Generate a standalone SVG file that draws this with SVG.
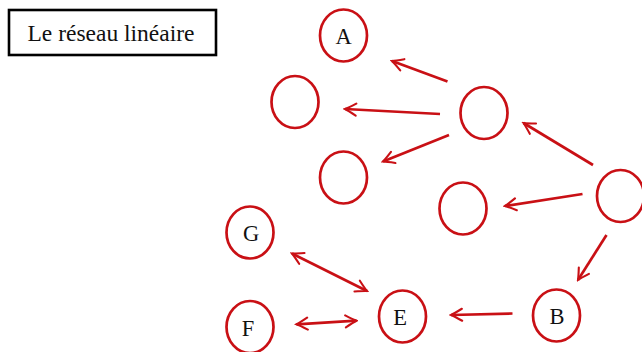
<svg xmlns="http://www.w3.org/2000/svg" width="642" height="352" viewBox="0 0 642 352">
  <style>
    .node ellipse { fill: none; stroke: #c91015; stroke-width: 2.7; }
    .node text, .title text { font-family: "Liberation Serif", "Times New Roman", serif; fill: #111; text-anchor: middle; }
    .node text { font-size: 22.5px; }
    .edge { stroke: #c91015; stroke-width: 2.7; fill: none; }
  </style>
  <defs>
    <marker id="tip" markerUnits="userSpaceOnUse" viewBox="-13 -8 15 16" refX="0" refY="0" markerWidth="15" markerHeight="16" orient="auto-start-reverse">
      <path d="M -11 -6 Q -3 -1.3 0 0 Q -3 1.3 -11 6" fill="none" stroke="#c91015" stroke-width="2.1" stroke-linecap="round"/>
    </marker>
  </defs>

  <g id="title" class="title">
    <rect x="9" y="10" width="207" height="45" fill="#fff" stroke="#000" stroke-width="2.6"/>
    <text x="111" y="41" style="font-size:23.5px">Le réseau linéaire</text>
  </g>

  <g id="node-A" class="node"><ellipse cx="343.5" cy="35.5" rx="23.5" ry="26"/><text x="343.5" y="43.5">A</text></g>
  <g id="node-n1" class="node"><ellipse cx="295" cy="102" rx="23.5" ry="26"/></g>
  <g id="node-n2" class="node"><ellipse cx="343.5" cy="177.5" rx="23.5" ry="26"/></g>
  <g id="node-n3" class="node"><ellipse cx="484" cy="113" rx="23.5" ry="26"/></g>
  <g id="node-n4" class="node"><ellipse cx="463" cy="208.5" rx="23.5" ry="26"/></g>
  <g id="node-n5" class="node"><ellipse cx="620.5" cy="196" rx="23.5" ry="26"/></g>
  <g id="node-B" class="node"><ellipse cx="556.5" cy="315.5" rx="23.5" ry="26"/><text x="557" y="323.5">B</text></g>
  <g id="node-G" class="node"><ellipse cx="250" cy="232.5" rx="23.5" ry="26"/><text x="251" y="240.5">G</text></g>
  <g id="node-F" class="node"><ellipse cx="250" cy="327" rx="23.5" ry="26"/><text x="248" y="335.5">F</text></g>
  <g id="node-E" class="node"><ellipse cx="402.5" cy="316.5" rx="23.5" ry="26"/><text x="400" y="325">E</text></g>

  <g id="connectors">
    <line class="edge" x1="447.5" y1="81.5" x2="392" y2="61" marker-end="url(#tip)"/>
    <line class="edge" x1="440" y1="114" x2="345" y2="109" marker-end="url(#tip)"/>
    <line class="edge" x1="449" y1="135" x2="383" y2="161.5" marker-end="url(#tip)"/>
    <line class="edge" x1="593" y1="165" x2="523.5" y2="123" marker-end="url(#tip)"/>
    <line class="edge" x1="582.5" y1="194" x2="505" y2="206" marker-end="url(#tip)"/>
    <line class="edge" x1="606.5" y1="235" x2="578" y2="280" marker-end="url(#tip)"/>
    <line class="edge" x1="512.5" y1="313.5" x2="451" y2="315" marker-end="url(#tip)"/>
    <line class="edge" x1="292" y1="253.5" x2="367" y2="291" marker-start="url(#tip)" marker-end="url(#tip)"/>
    <line class="edge" x1="296.5" y1="324.3" x2="356.5" y2="320.7" marker-start="url(#tip)" marker-end="url(#tip)"/>
  </g>
</svg>
